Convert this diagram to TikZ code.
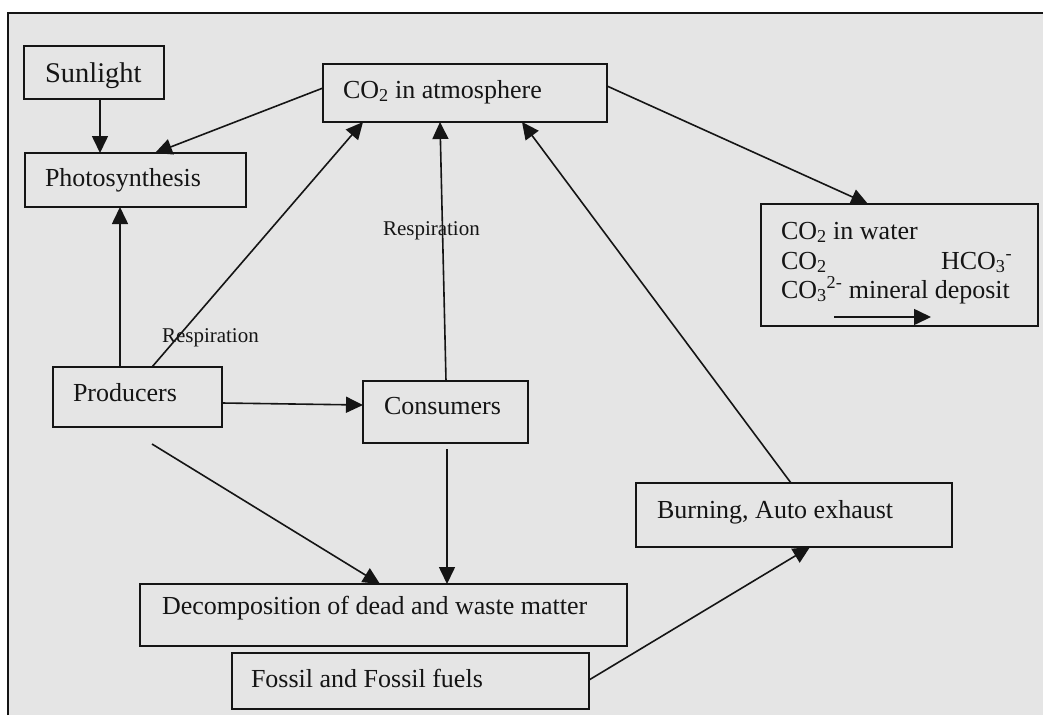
\documentclass[tikz,border=0pt]{standalone}
\usepackage{fontspec}
\setmainfont{Liberation Serif}
\usetikzlibrary{arrows.meta,calc}
\definecolor{bggray}{HTML}{E5E5E5}
\definecolor{ink}{HTML}{151515}
\tikzset{
  box/.style={draw=ink, line width=1.5pt, inner sep=0pt, outer sep=0pt, fill=none},
  txt/.style={inner sep=0pt, outer sep=0pt, anchor=base west, text=ink, font=\fontsize{26}{30}\selectfont},
  small/.style={inner sep=0pt, outer sep=0pt, anchor=base west, text=ink, font=\fontsize{21}{24}\selectfont},
  arr/.style={draw=ink, line width=1.6pt, -{Triangle[length=17pt,width=16pt]}},
  plain/.style={draw=ink, line width=1.6pt}
}
\begin{document}
\begin{tikzpicture}[x=1pt,y=-1pt]
\useasboundingbox (0,0) rectangle (1043,715);
\fill[white] (0,0) rectangle (1043,715);
\fill[bggray] (8,13) rectangle (1043,715);
\draw[ink, line width=2.8pt] (8,715) -- (8,13) -- (1043,13);

% boxes
\node[box, minimum width=140pt, minimum height=53pt] (sun) at (94,72.5) {};
\node[box, minimum width=221pt, minimum height=54pt] (photo) at (135.5,180) {};
\node[box, minimum width=284pt, minimum height=58pt] (atm) at (465,93) {};
\node[box, minimum width=277pt, minimum height=122pt] (water) at (899.5,265) {};
\node[box, minimum width=169pt, minimum height=60pt] (prod) at (137.5,397) {};
\node[box, minimum width=165pt, minimum height=62pt] (cons) at (445.5,412) {};
\node[box, minimum width=316pt, minimum height=64pt] (burn) at (794,515) {};
\node[box, minimum width=487pt, minimum height=62pt] (decomp) at (383.5,615) {};
\node[box, minimum width=357pt, minimum height=56pt] (fossil) at (410.5,681) {};

% texts
\node[txt, font=\fontsize{28.5}{32}\selectfont] (sunT) at (45,82) {Sunlight};
\node[txt] (photoT) at (45,186) {Photosynthesis};
\node[txt] (atmT) at (343,98) {CO\textsubscript{2} in atmosphere};
\node[txt] (waterT1) at (781,239) {CO\textsubscript{2} in water};
\node[txt] (waterT2) at (781,269) {CO\textsubscript{2}};
\node[txt] (waterT3) at (941,269) {HCO\textsubscript{3}\textsuperscript{-}};
\node[txt] (waterT4) at (781,298) {CO\textsubscript{3}\textsuperscript{2-} mineral deposit};
\node[txt] (prodT) at (73,401) {Producers};
\node[txt] (consT) at (384,414) {Consumers};
\node[txt] (burnT) at (657,518) {Burning, Auto exhaust};
\node[txt] (decompT) at (162,614) {Decomposition of dead and waste matter};
\node[txt] (fossilT) at (251,687) {Fossil and Fossil fuels};
\node[small] (resp1) at (162,342) {Respiration};
\node[small] (resp2) at (383,235) {Respiration};

% connectors
\draw[arr] ($(sun.south)+(6,0)$) coordinate (a1) -- (a1 |- photo.north);
\draw[arr] ($(atm.north west)+(0,24)$) -- ($(photo.north west)+(130,0)$);
\draw[arr] ($(prod.north west)+(67,0)$) coordinate (a3) -- (a3 |- photo.south);
\draw[arr] ($(prod.north west)+(99,0)$) -- ($(atm.south west)+(40,0)$);
\draw[arr] ($(cons.north west)+(83,0)$) -- ($(atm.south west)+(117,0)$);
\draw[arr] ($(burn.north west)+(155,0)$) -- ($(atm.south west)+(199,0)$);
\draw[arr] ($(atm.north east)+(0,22)$) -- ($(water.north west)+(107,0)$);
\draw[arr] ($(prod.north east)+(0,36)$) -- ($(cons.north west)+(0,24)$);
\coordinate (p9) at ($(prod.south west)+(99,17)$);
\draw[arr] (p9) -- ($(decomp.north west)+(240,0)$);
\coordinate (c10) at ($(cons.south west)+(84,6)$);
\draw[arr] (c10) -- (c10 |- decomp.north);
\draw[arr] ($(fossil.north east)+(0,27)$) -- ($(burn.south west)+(174,0)$);
\coordinate (w1) at ($(water.north west)+(73,113)$);
\coordinate (w2) at ($(water.north west)+(170,113)$);
\draw[arr] (w1) -- (w2);
\end{tikzpicture}
\end{document}
